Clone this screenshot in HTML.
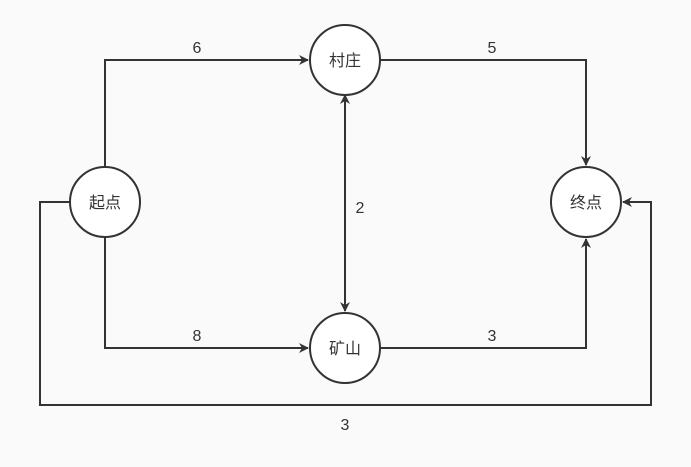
<!DOCTYPE html>
<html><head><meta charset="utf-8"><style>html,body{margin:0;padding:0;background:#fafafa}</style></head><body>
<svg width="691" height="467" xmlns="http://www.w3.org/2000/svg" style="display:block">
<defs><marker id="a" markerWidth="10" markerHeight="10" refX="9" refY="5" orient="auto" markerUnits="userSpaceOnUse"><path d="M0,0 L10,5 L0,10 L3,5 Z" fill="#333"/></marker></defs>
<g fill="none" stroke="#333" stroke-width="2">
<polyline points="105,167 105,60 308,60" marker-end="url(#a)"/>
<polyline points="380,60 586,60 586,165" marker-end="url(#a)"/>
<line x1="345" y1="97" x2="345" y2="311" marker-end="url(#a)" marker-start="url(#a)"/>
<polyline points="105,237 105,348 308,348" marker-end="url(#a)"/>
<polyline points="380,348 586,348 586,239" marker-end="url(#a)"/>
<polyline points="70,202 40,202 40,405 651,405 651,202 623,202" marker-end="url(#a)"/>
</g>
<line x1="345" y1="105" x2="345" y2="95" stroke="#333" stroke-width="2" marker-end="url(#a)"/>
<g fill="#fff" stroke="#333" stroke-width="2">
<circle cx="105" cy="202" r="35"/><circle cx="345" cy="60" r="35"/><circle cx="345" cy="348" r="35"/><circle cx="586" cy="202" r="35"/>
</g>
<g font-family="Liberation Sans, Noto Sans CJK SC, sans-serif" font-size="16" fill="#333" text-anchor="middle">
<text x="105" y="208">起点</text><text x="345" y="66">村庄</text><text x="345" y="354">矿山</text><text x="586" y="208">终点</text>
<text x="197" y="53">6</text><text x="492" y="53">5</text><text x="360" y="213">2</text><text x="197" y="341">8</text><text x="492" y="341">3</text><text x="345" y="430">3</text>
</g>
</svg>
</body></html>
